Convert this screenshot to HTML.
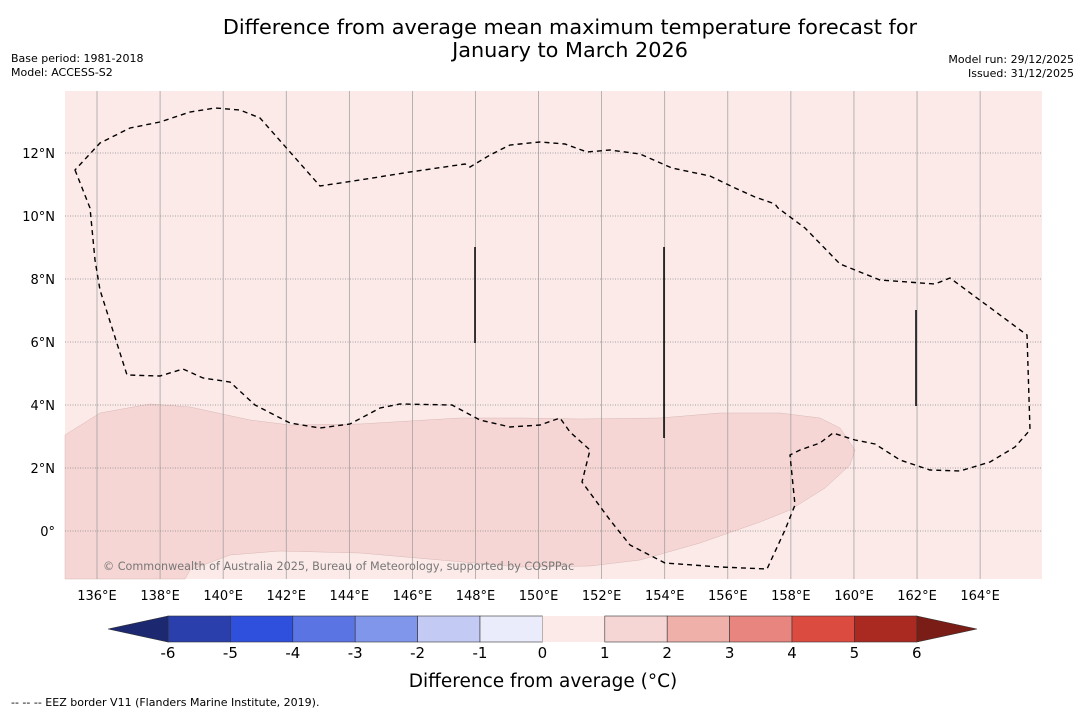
<!DOCTYPE html>
<html><head><meta charset="utf-8"><style>
body{margin:0;background:#fff;width:1085px;height:713px;overflow:hidden;font-family:"Liberation Sans","DejaVu Sans",sans-serif}
text{font-family:"DejaVu Sans","Liberation Sans",sans-serif}
</style></head><body>
<svg width="1085" height="713">
<text x="570" y="34" font-size="20.8" text-anchor="middle">Difference from average mean maximum temperature forecast for</text>
<text x="570" y="57" font-size="20.8" text-anchor="middle">January to March 2026</text>
<text x="11" y="62" font-size="11">Base period: 1981-2018</text>
<text x="11" y="76" font-size="11">Model: ACCESS-S2</text>
<text x="1074" y="63" font-size="11" text-anchor="end">Model run: 29/12/2025</text>
<text x="1074" y="77" font-size="11" text-anchor="end">Issued: 31/12/2025</text>
<g id="map">
<rect x="65" y="91" width="977" height="488" fill="#fbeae8"/>
<polygon id="anom" fill="#f5d6d4" stroke="#d8b8b6" stroke-width="0.5"/>
<g id="grid"></g>
<polygon id="eez" fill="none" stroke="#000" stroke-width="1.4" stroke-dasharray="5,4"/>
<g id="vlines" stroke="#000" stroke-width="1.5"></g>
<text x="103" y="570" font-size="11.2" fill="#777">© Commonwealth of Australia 2025, Bureau of Meteorology, supported by COSPPac</text>
</g>
<g id="ticks" font-size="13"></g>
<g id="cbar"></g>
<text x="543" y="687" font-size="18.5" text-anchor="middle">Difference from average (°C)</text>
<text x="11" y="706" font-size="11">-- -- -- EEZ border V11 (Flanders Marine Institute, 2019).</text>
</svg>
<script>
const lonTicks=[136,138,140,142,144,146,148,150,152,154,156,158,160,162,164];
const latTicks=[12,10,8,6,4,2,0];
const cbarLevels=[-6,-5,-4,-3,-2,-1,0,1,2,3,4,5,6];
const cbarColors=["#2a3fab","#2f4fdd","#5a74e3","#8096ea","#c3cbf4","#eaecfb","#fbeae8","#f5d6d4","#efb0aa","#e8857f","#db4b40","#aa2a22"];
const ns="http://www.w3.org/2000/svg";
const X=lon=>97+(lon-136)*31.54, Y=lat=>531-lat*31.5;
function mk(t,a,p){const e=document.createElementNS(ns,t);for(const k in a)e.setAttribute(k,a[k]);(p||document.querySelector('svg')).appendChild(e);return e;}
const grid=document.getElementById('grid'),ticks=document.getElementById('ticks');
lonTicks.forEach(l=>{const x=X(l);
const g=mk('line',{x1:x,x2:x,y1:91,y2:579,stroke:'#999','stroke-width':0.7},grid);

const t=mk('text',{x:x,y:600,'text-anchor':'middle'},ticks);t.textContent=l+'°E';
});
latTicks.forEach(l=>{const y=Y(l);
const g=mk('line',{x1:65,x2:1042,y1:y,y2:y,stroke:'#888','stroke-width':0.8,'stroke-dasharray':'1,1.5'},grid);

const t=mk('text',{x:55,y:y+5,'text-anchor':'end'},ticks);t.textContent=(l===0?'0°':l+'°N');
});
document.getElementById('anom').setAttribute('points',"65,435 100,413 150,404 190,407 250,420 290,425 360,424 460,418 520,418 580,419 660,418 720,413 780,413 820,418 840,428 855,450 850,465 825,488 790,510 760,522 700,543 640,560 590,566 520,567 440,560 360,553 280,551 230,555 190,570 185,579 65,579");
document.getElementById('eez').setAttribute('points',"75,170 90,208 95,260 100,290 127,375 160,376 183,369 203,378 230,382 255,405 290,423 320,428 350,424 380,408 400,404 452,405 480,420 510,427 540,425 560,418 570,432 590,450 582,482 610,520 630,545 665,563 720,567 767,569 785,530 795,505 790,455 800,450 820,443 833,433 855,440 875,444 900,460 930,470 960,471 990,462 1015,447 1030,430 1027,335 1000,315 950,278 935,284 880,280 840,264 805,228 778,208 775,204 755,197 735,188 710,176 672,168 640,154 610,150 587,152 565,144 540,142 510,145 490,155 470,167 465,164 410,172 360,180 320,186 260,118 240,110 215,108 190,112 160,122 130,128 100,143 75,170");
const vl=document.getElementById('vlines');
[[475,247,343],[664,247,438],[916,310,406]].forEach(v=>{const e=mk('line',{x1:v[0],x2:v[0],y1:v[1],y2:v[2]},vl);
});
const cb=document.getElementById('cbar');
const cx=v=>168+(v+6)*62.4;
cbarColors.forEach((c,i)=>{const r=mk('rect',{x:cx(cbarLevels[i]),y:616,width:62.4,height:26,fill:c,stroke:i===6?'none':'#333','stroke-width':0.6},cb);
});
const a1=mk('polygon',{points:`${cx(-6)},616 108,629 ${cx(-6)},642`,fill:'#1c2870',stroke:'#333','stroke-width':0.6},cb);

const a2=mk('polygon',{points:`${cx(6)},616 977,629 ${cx(6)},642`,fill:'#7a1d16',stroke:'#333','stroke-width':0.6},cb);

cbarLevels.forEach(v=>{const t=mk('text',{x:cx(v),y:658,'font-size':15,'text-anchor':'middle'},cb);t.textContent=v;
});
</script>
</body></html>
